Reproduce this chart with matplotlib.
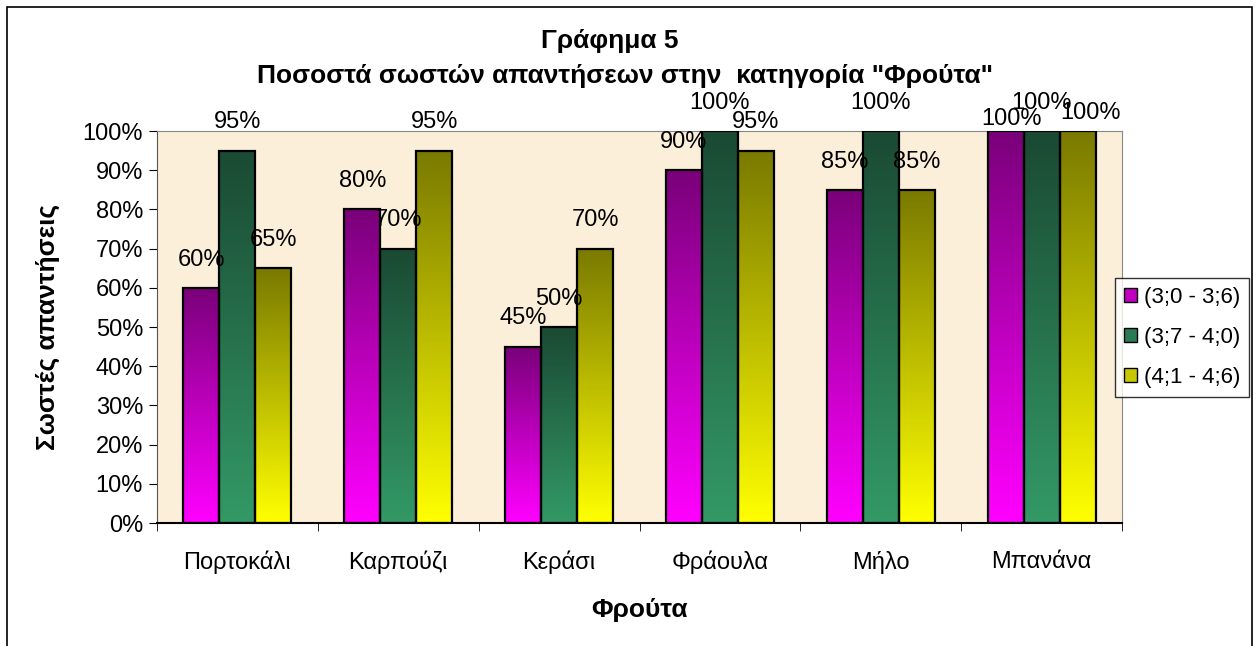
import numpy as np
import matplotlib
matplotlib.use('Agg')
from matplotlib import pyplot as plt
from matplotlib.patches import Patch, Rectangle
from matplotlib.ticker import PercentFormatter

plt.rcParams['font.family'] = ['Liberation Sans', 'DejaVu Sans']

fruits = ['Πορτοκάλι', 'Καρπούζι', 'Κεράσι', 'Φράουλα', 'Μήλο', 'Μπανάνα']
series_names = ['(3;0 - 3;6)', '(3;7 - 4;0)', '(4;1 - 4;6)']
age_30_36 = [60, 80, 45, 90, 85, 100]
age_37_40 = [95, 70, 50, 100, 100, 100]
age_41_46 = [65, 95, 70, 95, 85, 100]
values = [age_30_36, age_37_40, age_41_46]

# (top colour, bottom colour) of each gradient
grad_colors = [('#7a007a', '#ff00ff'),
               ('#1a4a33', '#339966'),
               ('#7a7a00', '#ffff00')]
legend_colors = ['#c000c0', '#2a7a55', '#c8c800']

# labels of the last group are nudged apart like in the original
last_group_shift = [(4, -12), (0, 0), (9, -7)]

fig = plt.figure(figsize=(12.58, 6.46), dpi=100)
ax = fig.add_axes([0.1248, 0.1904, 0.7671, 0.6068])
ax.set_facecolor('#fcefda')

width = 0.224
x = np.arange(len(fruits))


def hex2rgb(h):
    return np.array([int(h[i:i + 2], 16) for i in (1, 3, 5)]) / 255.0


for i, vals in enumerate(values):
    top = hex2rgb(grad_colors[i][0])
    bot = hex2rgb(grad_colors[i][1])
    t = np.linspace(0, 1, 100)[:, None]
    grad = (bot * (1 - t) + top * t)[:, None, :]
    pos = x + (i - 1) * width
    for xp, v in zip(pos, vals):
        ax.imshow(grad, extent=[xp - width / 2, xp + width / 2, 0, v],
                  origin='lower', aspect='auto', zorder=2,
                  interpolation='bilinear')
    ax.bar(pos, vals, width, fill=False, edgecolor='black', linewidth=1.6,
           zorder=3)
    for j, (xp, v) in enumerate(zip(pos, vals)):
        dx, dy = last_group_shift[i] if j == len(fruits) - 1 else (0, 0)
        ax.annotate(f'{v}%', (xp, v), xytext=(dx, 16 + dy),
                    textcoords='offset points', ha='center', va='baseline',
                    fontsize=17, zorder=4, annotation_clip=False)

ax.set_xlim(-0.5, len(fruits) - 0.5)
ax.set_ylim(0, 100)
ax.set_yticks(np.arange(0, 101, 10))
ax.yaxis.set_major_formatter(PercentFormatter(decimals=0))
ax.set_xticks(x)
ax.set_xticklabels(fruits)
ax.set_xticks(np.arange(-0.5, len(fruits), 1), minor=True)
ax.tick_params(axis='x', which='major', length=0, pad=20, labelsize=17)
ax.tick_params(axis='x', which='minor', length=6, direction='out')
ax.tick_params(axis='y', length=6, direction='out', labelsize=17, pad=4)

for s in ['top', 'right']:
    ax.spines[s].set_color('#888888')
ax.spines['left'].set_color('#555555')
ax.spines['bottom'].set_color('black')
ax.spines['bottom'].set_linewidth(1.5)

ax.set_xlabel('Φρούτα', fontsize=19, fontweight='bold', labelpad=17)
ax.set_ylabel('Σωστές απαντήσεις', fontsize=19, fontweight='bold', labelpad=16)

fig.text(0.485, 1 - 41 / 646, 'Γράφημα 5', ha='center', va='center',
         fontsize=19, fontweight='bold')
fig.text(0.497, 1 - 76 / 646, 'Ποσοστά σωστών απαντήσεων στην  κατηγορία "Φρούτα"',
         ha='center', va='center', fontsize=19, fontweight='bold')

handles = [Patch(facecolor=c, edgecolor='black', linewidth=1) for c in legend_colors]
leg = fig.legend(handles, series_names, loc='upper left',
                 bbox_to_anchor=(1115 / 1258, 1 - 278 / 646), fontsize=16,
                 frameon=True, fancybox=False, handlelength=0.6,
                 handleheight=0.6, handletextpad=0.3, labelspacing=0.85,
                 borderpad=0.4, borderaxespad=0)
leg.get_frame().set_edgecolor('black')
leg.get_frame().set_linewidth(1)

fig.patches.append(Rectangle((7 / 1258, -0.02), 1245 / 1258, 1.02 - 7 / 646,
                             transform=fig.transFigure, fill=False,
                             edgecolor='black', linewidth=1.2))

fig.savefig('out.png', dpi=100)
